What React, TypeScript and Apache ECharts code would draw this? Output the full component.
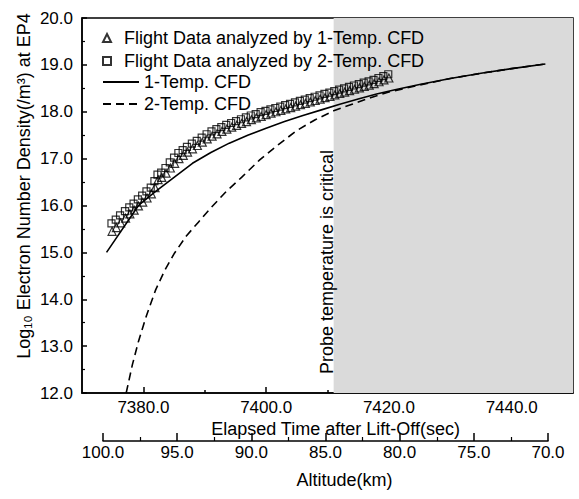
import React, { useEffect, useRef } from 'react';
import * as echarts from 'echarts';

const FONT = '"Liberation Sans", Arial, Helvetica, sans-serif';

// Flight data analyzed by 1-Temp. CFD (triangles)
const triTime = [7374.9, 7375.6, 7376.3, 7377.1, 7377.8, 7378.5, 7379.2, 7379.9, 7380.6, 7381.3, 7381.9, 7382.4, 7383.0, 7383.7, 7384.4, 7385.1, 7385.8, 7386.5, 7387.2, 7388.0, 7388.8, 7389.6, 7390.4, 7391.2, 7392.0, 7392.8, 7393.6, 7394.4, 7395.2, 7396.0, 7396.8, 7397.6, 7398.4, 7399.2, 7400.0, 7400.8, 7401.6, 7402.4, 7403.2, 7404.0, 7404.8, 7405.6, 7406.4, 7407.2, 7408.0, 7408.8, 7409.6, 7410.4, 7411.2, 7412.0, 7412.8, 7413.6, 7414.4, 7415.2, 7416.0, 7416.8, 7417.6, 7418.4, 7419.2, 7420.0];
const triValue = [15.45, 15.53, 15.63, 15.73, 15.82, 15.90, 15.99, 16.07, 16.16, 16.25, 16.38, 16.55, 16.60, 16.69, 16.80, 16.90, 17.00, 17.07, 17.14, 17.21, 17.28, 17.35, 17.42, 17.48, 17.53, 17.58, 17.63, 17.67, 17.71, 17.75, 17.79, 17.83, 17.87, 17.90, 17.94, 17.97, 18.00, 18.03, 18.06, 18.09, 18.12, 18.15, 18.18, 18.21, 18.24, 18.27, 18.30, 18.33, 18.36, 18.39, 18.42, 18.45, 18.48, 18.51, 18.54, 18.57, 18.60, 18.64, 18.68, 18.72];

// Flight data analyzed by 2-Temp. CFD (squares)
const sqTime = [7374.8, 7375.5, 7376.2, 7377.0, 7377.7, 7378.4, 7379.1, 7379.8, 7380.5, 7381.2, 7381.8, 7382.3, 7382.9, 7383.6, 7384.3, 7385.0, 7385.7, 7386.4, 7387.1, 7387.9, 7388.7, 7389.5, 7390.3, 7391.1, 7391.9, 7392.7, 7393.5, 7394.3, 7395.1, 7395.9, 7396.7, 7397.5, 7398.3, 7399.1, 7399.9, 7400.7, 7401.5, 7402.3, 7403.1, 7403.9, 7404.7, 7405.5, 7406.3, 7407.1, 7407.9, 7408.7, 7409.5, 7410.3, 7411.1, 7411.9, 7412.7, 7413.5, 7414.3, 7415.1, 7415.9, 7416.7, 7417.5, 7418.3, 7419.1, 7419.9];
const sqValue = [15.62, 15.70, 15.79, 15.88, 15.96, 16.04, 16.13, 16.21, 16.30, 16.38, 16.52, 16.66, 16.70, 16.80, 16.92, 17.02, 17.12, 17.18, 17.25, 17.32, 17.38, 17.45, 17.52, 17.58, 17.63, 17.67, 17.72, 17.76, 17.80, 17.84, 17.88, 17.92, 17.95, 17.99, 18.02, 18.05, 18.08, 18.11, 18.14, 18.17, 18.20, 18.23, 18.26, 18.29, 18.32, 18.35, 18.38, 18.41, 18.44, 18.47, 18.50, 18.53, 18.56, 18.59, 18.62, 18.65, 18.68, 18.72, 18.76, 18.80];

// 1-Temp. CFD (solid)
const cfd1Time = [7374.0, 7379.2, 7382, 7385, 7388, 7391, 7394, 7397, 7400, 7403, 7406, 7409, 7412, 7415, 7418, 7421, 7425, 7430, 7435, 7440, 7445.5];
const cfd1Value = [15.0, 16.0, 16.3, 16.6, 16.9, 17.13, 17.33, 17.5, 17.65, 17.79, 17.92, 18.04, 18.16, 18.27, 18.38, 18.47, 18.58, 18.71, 18.82, 18.92, 19.02];

// 2-Temp. CFD (dashed)
const cfd2Time = [7377.2, 7378.2, 7379.2, 7380.5, 7382, 7383.5, 7385, 7387, 7389, 7391, 7393.5, 7396, 7399, 7402, 7405, 7408, 7411, 7414, 7417, 7420, 7425, 7430, 7435, 7440, 7445.5];
const cfd2Value = [12.0, 12.6, 13.1, 13.65, 14.2, 14.62, 14.97, 15.35, 15.65, 15.95, 16.3, 16.6, 16.98, 17.3, 17.6, 17.83, 18.02, 18.16, 18.3, 18.42, 18.57, 18.71, 18.82, 18.92, 19.02];

const timeMajorTicks = [7380, 7400, 7420, 7440];
const timeMinorTicks = [7390, 7410, 7430];
const criticalRange = [7411, 7450];

const NAME_TRI = 'Flight Data analyzed by 1-Temp. CFD';
const NAME_SQ = 'Flight Data analyzed by 2-Temp. CFD';
const NAME_C1 = '1-Temp. CFD';
const NAME_C2 = '2-Temp. CFD';

const zip = (a: number[], b: number[]) => a.map((v, i) => [v, b[i]]);

const axisLineStyle = { color: '#000', width: 1.5 };
const tickLabel = { fontSize: 17, color: '#000', fontFamily: FONT };
const nameStyle = { fontSize: 18, color: '#000', fontFamily: FONT };

export default function App() {
  const ref = useRef<HTMLDivElement>(null);
  useEffect(() => {
    const chart = echarts.init(ref.current!, null, { renderer: 'svg' });
    chart.setOption({
      animation: false,
      backgroundColor: '#fff',
      textStyle: { fontFamily: FONT },
      grid: [
        { left: 82, top: 18, right: 6, height: 375, show: true, borderColor: '#000', borderWidth: 1.5 },
        { left: 103, width: 445, top: 431, height: 10 },
      ],
      legend: [
        {
          data: [NAME_TRI, NAME_SQ], orient: 'vertical', left: 102, top: 29, padding: 0,
          itemWidth: 8, itemHeight: 8, itemGap: 5, selectedMode: false,
          textStyle: { ...nameStyle, padding: [0, 0, 0, 8] },
        },
        {
          data: [NAME_C1, NAME_C2], orient: 'vertical', left: 102, top: 73, padding: 0,
          itemWidth: 36, itemHeight: 10, itemGap: 4, selectedMode: false,
          itemStyle: { color: 'rgba(0,0,0,0)', borderWidth: 0, opacity: 0 },
          textStyle: { ...nameStyle },
        },
      ],
      xAxis: [
        {
          gridIndex: 0, type: 'value', position: 'bottom', min: 7370, max: 7450,
          axisLine: { show: true, lineStyle: axisLineStyle },
          axisTick: { show: true, inside: true, length: 6, customValues: timeMajorTicks, lineStyle: axisLineStyle },
          axisLabel: { ...tickLabel, margin: 6, customValues: timeMajorTicks, formatter: (v: number) => v.toFixed(1) },
          splitLine: { show: false },
          name: 'Elapsed Time after Lift-Off(sec)', nameLocation: 'middle', nameGap: 27,
          nameMoveOverlap: false,
          nameTextStyle: { ...nameStyle, padding: [0, 0, 0, 16] },
        },
        {
          gridIndex: 0, type: 'value', position: 'bottom', min: 7370, max: 7450,
          axisLine: { show: false },
          axisTick: { show: true, inside: true, length: 3, customValues: timeMinorTicks, lineStyle: axisLineStyle },
          axisLabel: { show: false },
          splitLine: { show: false },
        },
        {
          gridIndex: 1, type: 'value', position: 'bottom', min: 70, max: 100, interval: 5, inverse: true,
          axisLine: { show: true, lineStyle: axisLineStyle },
          axisTick: { show: true, inside: true, length: 8, lineStyle: axisLineStyle },
          minorTick: { show: true, splitNumber: 2, length: 4, lineStyle: { color: '#000', width: 1.2 } },
          axisLabel: { ...tickLabel, margin: 3, formatter: (v: number) => v.toFixed(1) },
          splitLine: { show: false },
          name: 'Altitude(km)', nameLocation: 'middle', nameGap: 30,
          nameMoveOverlap: false,
          nameTextStyle: { ...nameStyle, padding: [0, 0, 0, 38] },
        },
      ],
      yAxis: [
        {
          gridIndex: 0, type: 'value', min: 12, max: 20, interval: 1,
          axisLine: { show: true, lineStyle: axisLineStyle },
          axisTick: { show: true, inside: true, length: 5, lineStyle: axisLineStyle },
          minorTick: { show: true, splitNumber: 2, length: 3, lineStyle: { color: '#000', width: 1.2 } },
          axisLabel: { ...tickLabel, margin: 9, formatter: (v: number) => v.toFixed(1) },
          splitLine: { show: false },
          name: 'Log\u2081\u2080 Electron Number Density(/m\u00B3) at EP4',
          nameLocation: 'middle', nameRotate: 90, nameGap: 49,
          nameMoveOverlap: false,
          nameTextStyle: { ...nameStyle, padding: [0, 0, 0, 39] },
        },
        { gridIndex: 1, type: 'value', show: false, min: 0, max: 1 },
      ],
      graphic: [
        {
          type: 'text', x: 327, y: 262, rotation: Math.PI / 2, z: 100,
          style: {
            text: 'Probe temperature is critical', fill: '#000',
            font: '18px "Liberation Sans", Arial, sans-serif',
            align: 'center', verticalAlign: 'middle',
          },
        },
      ],
      series: [
        {
          name: 'critical', type: 'line', xAxisIndex: 0, yAxisIndex: 0, data: [], z: 0,
          markArea: {
            silent: true,
            itemStyle: { color: '#dadada' },
            data: [[{ xAxis: criticalRange[0] }, { xAxis: criticalRange[1] }]],
          },
        },
        {
          name: NAME_TRI, type: 'scatter', xAxisIndex: 0, yAxisIndex: 0, z: 4,
          symbol: 'triangle', symbolSize: 8,
          itemStyle: { color: 'rgba(255,255,255,0)', borderColor: '#000', borderWidth: 1.2 },
          data: zip(triTime, triValue),
        },
        {
          name: NAME_SQ, type: 'scatter', xAxisIndex: 0, yAxisIndex: 0, z: 4,
          symbol: 'rect', symbolSize: 7,
          itemStyle: { color: 'rgba(255,255,255,0)', borderColor: '#000', borderWidth: 1.2 },
          data: zip(sqTime, sqValue),
        },
        {
          name: NAME_C1, type: 'line', xAxisIndex: 0, yAxisIndex: 0, z: 3,
          symbol: 'none', smooth: false,
          lineStyle: { color: '#000', width: 1.6, type: 'solid' },
          itemStyle: { color: '#000' },
          data: zip(cfd1Time, cfd1Value),
        },
        {
          name: NAME_C2, type: 'line', xAxisIndex: 0, yAxisIndex: 0, z: 3,
          symbol: 'none', smooth: false,
          lineStyle: { color: '#000', width: 1.6, type: [8, 5] },
          itemStyle: { color: '#000' },
          data: zip(cfd2Time, cfd2Value),
        },
        { name: 'alt', type: 'scatter', xAxisIndex: 2, yAxisIndex: 1, data: [] },
      ],
    });
    return () => chart.dispose();
  }, []);
  return (
    <div
      ref={ref}
      style={{ position: 'absolute', left: 0, top: 0, width: 579, height: 499, background: '#fff' }}
    />
  );
}
